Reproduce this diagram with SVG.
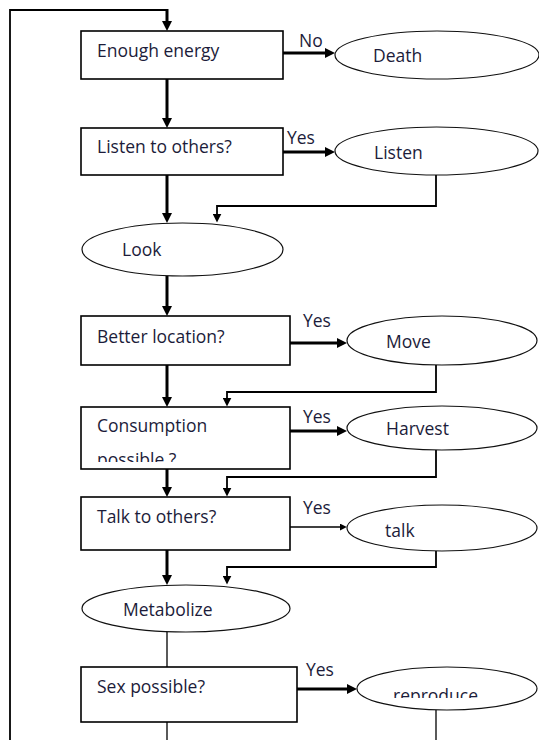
<svg xmlns="http://www.w3.org/2000/svg" width="539" height="740" viewBox="0 0 539 740">
<style>
.box{fill:#fff;stroke:#000;stroke-width:1.6}
.ell{fill:#fff;stroke:#111;stroke-width:1.2}
.t{font-family:"Open Sans","DejaVu Sans",sans-serif;font-size:17.5px;fill:#1c1c3a}
.main{fill:none;stroke:#000;stroke-width:3}
.ret{fill:none;stroke:#000;stroke-width:1.8}
.thin{fill:none;stroke:#000;stroke-width:1.3}
</style>
<defs>
<marker id="a" markerUnits="userSpaceOnUse" markerWidth="10" markerHeight="10" viewBox="0 0 10 10" refX="6" refY="5" orient="auto">
<path d="M0,0 L10,5 L0,10 z" fill="#000"/>
</marker>
<marker id="b" markerUnits="userSpaceOnUse" markerWidth="9" markerHeight="9" viewBox="0 0 10 10" refX="6" refY="5" orient="auto">
<path d="M0,0 L10,5 L0,10 z" fill="#000"/>
</marker>
<marker id="c" markerUnits="userSpaceOnUse" markerWidth="7" markerHeight="7" viewBox="0 0 10 10" refX="6" refY="5" orient="auto">
<path d="M0,0 L10,5 L0,10 z" fill="#000"/>
</marker>
<clipPath id="clipCons"><rect x="81" y="407" width="209" height="55"/></clipPath>
<clipPath id="clipRep"><rect x="357" y="667" width="180" height="31"/></clipPath>
</defs>

<g id="connectors">
<polyline class="ret" points="10,740 10,10 167,10"/>
<line class="main" x1="167" y1="9" x2="167" y2="27" marker-end="url(#a)"/>
<line class="main" x1="167" y1="79" x2="167" y2="124" marker-end="url(#a)"/>
<line class="main" x1="167" y1="175" x2="167" y2="219" marker-end="url(#a)"/>
<line class="main" x1="167" y1="276" x2="167" y2="312" marker-end="url(#a)"/>
<line class="main" x1="167" y1="365" x2="167" y2="403" marker-end="url(#a)"/>
<line class="main" x1="167" y1="469" x2="167" y2="493" marker-end="url(#a)"/>
<line class="main" x1="167" y1="550" x2="167" y2="581" marker-end="url(#a)"/>
<line class="thin" x1="167" y1="632" x2="167" y2="667"/>
<line class="thin" x1="167" y1="722" x2="167" y2="740"/>

<line class="main" x1="283" y1="53" x2="331" y2="53" marker-end="url(#a)"/>
<line class="main" x1="282" y1="152" x2="331" y2="152" marker-end="url(#a)"/>
<line class="main" x1="290" y1="343" x2="343" y2="343" marker-end="url(#a)"/>
<line class="main" x1="290" y1="431" x2="343" y2="431" marker-end="url(#a)"/>
<line class="thin" x1="290" y1="527" x2="344" y2="527" marker-end="url(#c)"/>
<line class="main" x1="297" y1="689" x2="353" y2="689" marker-end="url(#a)"/>

<polyline class="ret" points="436,175 436,206 217,206 217,219" marker-end="url(#b)"/>
<polyline class="ret" points="436,365 436,392 227,392 227,403" marker-end="url(#b)"/>
<polyline class="ret" points="436,450 436,477 227,477 227,493" marker-end="url(#b)"/>
<polyline class="ret" points="436,551 436,567 227,567 227,581" marker-end="url(#b)"/>
<line class="thin" x1="436" y1="710" x2="436" y2="740"/>

<text class="t" x="299" y="47">No</text>
<text class="t" x="287" y="144">Yes</text>
<text class="t" x="303" y="327">Yes</text>
<text class="t" x="303" y="423">Yes</text>
<text class="t" x="303" y="514">Yes</text>
<text class="t" x="306" y="676">Yes</text>
</g>

<g id="enough-energy">
<rect class="box" x="81" y="31" width="202" height="48"/>
<text class="t" x="97" y="57">Enough energy</text>
</g>
<g id="death">
<ellipse class="ell" cx="437" cy="55" rx="102" ry="24"/>
<text class="t" x="373" y="62">Death</text>
</g>
<g id="listen-to-others">
<rect class="box" x="81" y="128" width="202" height="47"/>
<text class="t" x="97" y="153">Listen to others?</text>
</g>
<g id="listen">
<ellipse class="ell" cx="436.5" cy="151" rx="101.5" ry="24"/>
<text class="t" x="374" y="159">Listen</text>
</g>
<g id="look">
<ellipse class="ell" cx="182.5" cy="249.5" rx="100.5" ry="26.5"/>
<text class="t" x="122" y="256">Look</text>
</g>
<g id="better-location">
<rect class="box" x="81" y="316" width="209" height="49"/>
<text class="t" x="97" y="343">Better location?</text>
</g>
<g id="move">
<ellipse class="ell" cx="442" cy="340.5" rx="95" ry="24.5"/>
<text class="t" x="386" y="348">Move</text>
</g>
<g id="consumption">
<rect class="box" x="81" y="407" width="209" height="62"/>
<text class="t" x="97" y="432">Consumption</text>
<text class="t" x="97" y="466" clip-path="url(#clipCons)">possible ?</text>
</g>
<g id="harvest">
<ellipse class="ell" cx="442" cy="428" rx="95" ry="22"/>
<text class="t" x="386" y="435">Harvest</text>
</g>
<g id="talk-to-others">
<rect class="box" x="81" y="497" width="209" height="53"/>
<text class="t" x="97" y="523">Talk to others?</text>
</g>
<g id="talk">
<ellipse class="ell" cx="442" cy="528" rx="95" ry="23"/>
<text class="t" x="385" y="537">talk</text>
</g>
<g id="metabolize">
<ellipse class="ell" cx="186" cy="608.5" rx="104" ry="23.5"/>
<text class="t" x="123" y="616">Metabolize</text>
</g>
<g id="sex-possible">
<rect class="box" x="81" y="667" width="216" height="55"/>
<text class="t" x="97" y="693">Sex possible?</text>
</g>
<g id="reproduce">
<ellipse class="ell" cx="447" cy="688.5" rx="90" ry="21.5"/>
<text class="t" x="393" y="702" clip-path="url(#clipRep)">reproduce</text>
</g>
</svg>
